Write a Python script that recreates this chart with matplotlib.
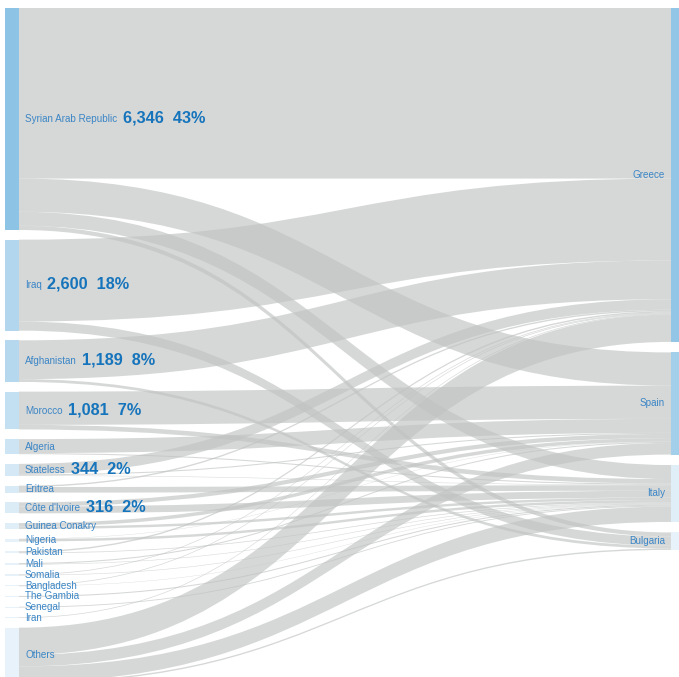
import numpy as np
import matplotlib.pyplot as plt
from matplotlib.path import Path
from matplotlib.patches import PathPatch, Rectangle

# origins (left) and destinations (right)
origins = ["Syrian Arab Republic", "Iraq", "Afghanistan", "Morocco", "Algeria",
           "Stateless", "Eritrea", "Côte d'Ivoire", "Guinea Conakry", "Nigeria",
           "Pakistan", "Mali", "Somalia", "Bangladesh", "The Gambia", "Senegal",
           "Iran", "Others"]
destinations = ["Greece", "Spain", "Italy", "Bulgaria"]

# arrivals per origin into each destination
to_greece   = [4876, 2340, 1110,   0,   0, 300,  40,   0,   0,  0, 40,  0, 20, 20,  0,  0, 20, 780]
to_spain    = [ 950,    0,    0, 950, 400,  30,   0, 120, 100, 10,  0, 30,  0,  0,  0,  0,  0, 330]
to_italy    = [ 400,    0,    0, 131,  30,  14, 160, 196,  70, 70, 20, 15, 15, 10, 30, 25,  0, 440]
to_bulgaria = [ 120,  260,   79,   0,   0,   0,   0,   0,   0,  0,  0,  0,  0,  0,  0,  0,  0,  40]

# origins that get the big number + share
highlighted = ["Syrian Arab Republic", "Iraq", "Afghanistan", "Morocco", "Stateless", "Côte d'Ivoire"]

flows = np.array([to_greece, to_spain, to_italy, to_bulgaria], dtype=float).T
out_tot = flows.sum(axis=1)
in_tot = flows.sum(axis=0)
grand = flows.sum()

# colours
left_colors = ["#8dc3e4", "#b2d6ee", "#b6d8ef", "#c3dff2", "#cde4f4", "#d4e8f5",
               "#d8eaf6", "#dbecf7", "#e0eef8", "#e6f1f9", "#e6f1f9", "#e6f1f9",
               "#e6f1f9", "#e6f1f9", "#e6f1f9", "#e6f1f9", "#e6f1f9", "#e8f2fa"]
right_colors = ["#93c6e6", "#a4cfeb", "#e0eef8", "#e8f2fa"]
flow_color = "#c1c3c3"
label_blue = "#3a86c6"
num_blue = "#1574bb"

W, H = 679, 677
fig = plt.figure(figsize=(W / 100, H / 100), dpi=100)
ax = fig.add_axes([0, 0, 1, 1])
ax.set_xlim(0, W)
ax.set_ylim(H, 0)
ax.axis("off")

scale = 0.03498   # px per person
top = 8
left_gap = 9.7
right_gap = 10.5
xl0, xl1 = 5, 19
xr0, xr1 = 671, 680

# node positions
left_y = []
y = top
for v in out_tot:
    left_y.append(y)
    y += v * scale + left_gap
right_y = []
y = top
for v in in_tot:
    right_y.append(y)
    y += v * scale + right_gap


def band(x0, x1, a0, a1, b0, b1):
    xm = (x0 + x1) / 2
    verts = [(x0, a0), (xm, a0), (xm, b0), (x1, b0), (x1, b1),
             (xm, b1), (xm, a1), (x0, a1), (x0, a0)]
    codes = [Path.MOVETO, Path.CURVE4, Path.CURVE4, Path.CURVE4, Path.LINETO,
             Path.CURVE4, Path.CURVE4, Path.CURVE4, Path.CLOSEPOLY]
    return PathPatch(Path(verts, codes), facecolor=flow_color, edgecolor="none",
                     alpha=0.66, lw=0)


# flows: ordered by destination at the source, by origin at the target
src_cursor = list(left_y)
dst_cursor = list(right_y)
for i in range(len(origins)):
    for j in range(len(destinations)):
        v = flows[i, j]
        if v <= 0:
            continue
        h = v * scale
        ax.add_patch(band(xl1, xr0, src_cursor[i], src_cursor[i] + h,
                          dst_cursor[j], dst_cursor[j] + h))
        src_cursor[i] += h
        dst_cursor[j] += h

# node bars
for i, name in enumerate(origins):
    h = out_tot[i] * scale
    ax.add_patch(Rectangle((xl0, left_y[i]), xl1 - xl0, h, color=left_colors[i], lw=0))
for j, name in enumerate(destinations):
    h = in_tot[j] * scale
    ax.add_patch(Rectangle((xr0, right_y[j]), xr1 - xr0, h, color=right_colors[j], lw=0))

# labels
font = "Liberation Sans"
for i, name in enumerate(origins):
    yc = left_y[i] + out_tot[i] * scale / 2
    t = ax.text(25, yc, name, fontsize=7.1, color=label_blue, va="center",
                ha="left", family=font)
    if name in highlighted:
        pct = round(out_tot[i] / grand * 100)
        ax.annotate(f"{int(out_tot[i]):,}  {pct}%", xy=(1, 0.5), xycoords=t,
                    xytext=(4, 0.5), textcoords="offset points", va="center",
                    ha="left", fontsize=11.7, fontweight="bold", color=num_blue,
                    family=font)

for j, name in enumerate(destinations):
    yc = right_y[j] + in_tot[j] * scale / 2
    ax.text(665, yc, name, fontsize=7.1, color=label_blue, va="center",
            ha="right", family=font)

fig.savefig("out.png", dpi=100)
